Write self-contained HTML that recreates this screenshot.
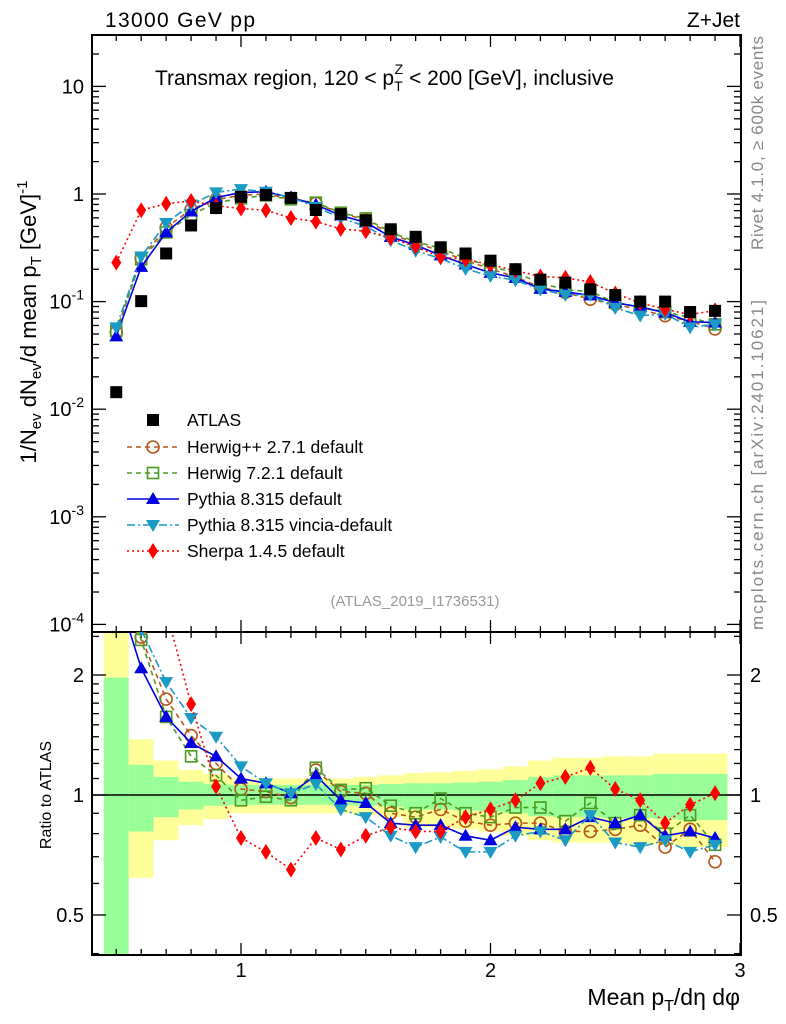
<!DOCTYPE html>
<html><head><meta charset="utf-8"><style>
body{margin:0;background:#fff;}
svg{display:block;font-family:"Liberation Sans",sans-serif;}
</style></head><body>
<svg id="c" width="786" height="1024" viewBox="0 0 786 1024" xmlns="http://www.w3.org/2000/svg">
<defs>
<clipPath id="cpMain"><rect x="92" y="35" width="649" height="597"/></clipPath>
<clipPath id="cpRat"><rect x="92" y="632" width="649" height="323"/></clipPath>
</defs>
<g id="bands" clip-path="url(#cpRat)"></g>
<g id="frame"></g>
<g id="series"></g>
<text x="105" y="27" font-size="21" textLength="150">13000 GeV pp</text>
<text x="740" y="27" font-size="21" text-anchor="end">Z+Jet</text>
<text x="155" y="85" font-size="21">Transmax region, 120 &lt; p<tspan font-size="14" dy="6">T</tspan><tspan font-size="14" dx="-8" dy="-17">Z</tspan><tspan dy="11"> &lt; 200 [GeV], inclusive</tspan></text>
<text transform="translate(36,322) rotate(-90)" font-size="22" text-anchor="middle">1/N<tspan font-size="15" dy="5">ev</tspan><tspan dy="-5"> dN</tspan><tspan font-size="15" dy="5">ev</tspan><tspan dy="-5">/d mean p</tspan><tspan font-size="15" dy="5">T</tspan><tspan dy="-5"> [GeV]</tspan><tspan font-size="15" dy="-9">-1</tspan></text>
<text transform="translate(51,795) rotate(-90)" font-size="16" text-anchor="middle">Ratio to ATLAS</text>
<text transform="translate(763,250) rotate(-90)" font-size="17" fill="#888" textLength="214">Rivet 4.1.0, ≥ 600k events</text>
<text transform="translate(763,630) rotate(-90)" font-size="17" fill="#888" textLength="330">mcplots.cern.ch [arXiv:2401.10621]</text>
<text x="415" y="606" font-size="15" fill="#999" text-anchor="middle">(ATLAS_2019_I1736531)</text>
<text x="740" y="1005" font-size="23" text-anchor="end">Mean p<tspan font-size="16" dy="6">T</tspan><tspan dy="-6">/dη dφ</tspan></text>
<g id="legend"></g>
</svg>
<script>
const xs=[0.5,0.6,0.7,0.8,0.9,1.0,1.1,1.2,1.3,1.4,1.5,1.6,1.7,1.8,1.9,2.0,2.1,2.2,2.3,2.4,2.5,2.6,2.7,2.8,2.9];
const atlas=[0.0144,0.101,0.28,0.51,0.74,0.94,0.98,0.92,0.71,0.65,0.57,0.47,0.40,0.32,0.28,0.24,0.20,0.16,0.15,0.13,0.115,0.10,0.10,0.08,0.082];
const herwigpp=[3.6,2.49,1.74,1.41,1.20,1.035,1.02,0.985,1.155,1.02,1.01,0.90,0.88,0.92,0.86,0.84,0.85,0.85,0.81,0.81,0.82,0.84,0.74,0.82,0.68];
const herwig7=[3.7,2.45,1.57,1.25,1.12,0.97,0.99,0.97,1.17,1.03,1.04,0.94,0.90,0.98,0.90,0.88,0.93,0.93,0.86,0.955,0.85,0.89,0.80,0.89,0.75];
const pythia=[3.3,2.08,1.57,1.35,1.25,1.10,1.07,1.01,1.12,0.97,0.955,0.85,0.84,0.84,0.79,0.77,0.83,0.82,0.82,0.88,0.85,0.89,0.79,0.81,0.78];
const vincia=[4.0,2.6,1.92,1.56,1.40,1.18,1.07,1.01,1.065,0.92,0.88,0.79,0.74,0.785,0.72,0.72,0.79,0.81,0.77,0.89,0.76,0.74,0.77,0.72,0.75];
const sherpa=[16,7.0,2.9,1.69,1.05,0.78,0.72,0.65,0.78,0.73,0.79,0.83,0.81,0.81,0.88,0.92,0.97,1.07,1.11,1.17,1.035,0.97,0.85,0.945,1.01];
const statHi=[1.97,1.19,1.11,1.08,1.065,1.06,1.06,1.06,1.06,1.06,1.06,1.065,1.07,1.07,1.075,1.08,1.09,1.11,1.12,1.12,1.12,1.12,1.13,1.13,1.13];
const statLo=[0.3,0.81,0.88,0.92,0.94,0.945,0.945,0.945,0.945,0.945,0.94,0.935,0.92,0.92,0.915,0.91,0.9,0.885,0.88,0.88,0.875,0.875,0.87,0.865,0.865];
const totHi=[3,1.38,1.22,1.155,1.13,1.1,1.1,1.1,1.1,1.1,1.11,1.12,1.135,1.14,1.15,1.16,1.18,1.22,1.24,1.24,1.25,1.25,1.27,1.27,1.27];
const totLo=[0.66,0.62,0.77,0.84,0.87,0.9,0.9,0.9,0.9,0.9,0.89,0.88,0.83,0.83,0.82,0.81,0.79,0.77,0.76,0.76,0.76,0.75,0.75,0.74,0.74];
const yTicks=["10","1","10^-1","10^-2","10^-3","10^-4"];
const NS='http://www.w3.org/2000/svg';
const X=v=>241+249.5*(v-1);
const Y=v=>194-107.6*Math.log10(v);
const R=v=>795-398.6*Math.log10(v);
function mk(tag,attrs,parent){const e=document.createElementNS(NS,tag);for(const k in attrs)e.setAttribute(k,attrs[k]);parent.appendChild(e);return e;}
const frame=document.getElementById('frame'),bands=document.getElementById('bands'),series=document.getElementById('series'),legend=document.getElementById('legend');
xs.forEach((x,i)=>{
 let r=mk('rect',{x:X(x-0.05),y:R(totHi[i]),width:X(x+0.05)-X(x-0.05),height:R(totLo[i])-R(totHi[i]),fill:'#ffff99'},bands);
 
 
 let g=mk('rect',{x:X(x-0.05),y:R(statHi[i]),width:X(x+0.05)-X(x-0.05),height:R(statLo[i])-R(statHi[i]),fill:'#99ff99'},bands);
 
 
});
mk('rect',{x:92,y:35,width:649,height:597,fill:'none',stroke:'#000','stroke-width':2},frame);
mk('rect',{x:92,y:632,width:649,height:323,fill:'none',stroke:'#000','stroke-width':2},frame);
mk('line',{x1:92,x2:741,y1:R(1),y2:R(1),stroke:'#000','stroke-width':1.5},frame);
for(let k=4;k<=30;k++){const v=k/10,px=X(v);if(px<92||px>741)continue;const maj=(k%10==0);const L=maj?12:6;
 [[35,1],[632,-1],[632,1],[955,-1]].forEach(([y0,d])=>mk('line',{x1:px,x2:px,y1:y0,y2:y0+d*L,stroke:'#000','stroke-width':1.3},frame));
 if(maj){const t=mk('text',{x:px,y:977,'font-size':20,'text-anchor':'middle'},frame);t.textContent=String(v);
 
 }
}
for(let e=-4;e<=1;e++){for(let m=1;m<=9;m++){const v=m*Math.pow(10,e),py=Y(v);if(py<35||py>632)continue;const L=m==1?14:7;
 mk('line',{x1:92,x2:92+L,y1:py,y2:py,stroke:'#000','stroke-width':1.3},frame);mk('line',{x1:741,x2:741-L,y1:py,y2:py,stroke:'#000','stroke-width':1.3},frame);}}
yTicks.forEach((s,i)=>{const e=1-i,py=Y(Math.pow(10,e));const t=mk('text',{x:84,y:py+7,'font-size':20,'text-anchor':'end'},frame);
 const p=s.split('^');t.textContent=p[0];if(p[1]){const ts=mk('tspan',{'font-size':14,dy:-9},t);ts.textContent=p[1];}
 
 });
[0.4,0.5,0.6,0.7,0.8,0.9,1,1.1,1.2,1.3,1.4,1.5,1.6,1.7,1.8,1.9,2,2.5].forEach(v=>{const py=R(v);if(py<632||py>955)return;const L=(v==0.5||v==1||v==2)?14:7;
 mk('line',{x1:92,x2:92+L,y1:py,y2:py,stroke:'#000','stroke-width':1.3},frame);mk('line',{x1:741,x2:741-L,y1:py,y2:py,stroke:'#000','stroke-width':1.3},frame);});
["2","1","0.5"].forEach(s=>{const py=R(parseFloat(s));
 const a=mk('text',{x:84,y:py+7,'font-size':20,'text-anchor':'end'},frame);a.textContent=s;
 
 
 const b=mk('text',{x:750,y:py+7,'font-size':20},frame);b.textContent=s;
 
 });
function marker(type,cx,cy,color,parent){
 if(type=='sq') return mk('rect',{x:cx-6,y:cy-6,width:12,height:12,fill:'#000'},parent);
 if(type=='osq') return mk('rect',{x:cx-5.5,y:cy-5.5,width:11,height:11,fill:'none',stroke:color,'stroke-width':1.6},parent);
 if(type=='oc') return mk('circle',{cx:cx,cy:cy,r:6,fill:'none',stroke:color,'stroke-width':1.6},parent);
 if(type=='tu') return mk('polygon',{points:`${cx},${cy-7} ${cx-7},${cy+5} ${cx+7},${cy+5}`,fill:color},parent);
 if(type=='td') return mk('polygon',{points:`${cx},${cy+7} ${cx-7},${cy-5} ${cx+7},${cy-5}`,fill:color},parent);
 if(type=='dm') return mk('polygon',{points:`${cx},${cy-8} ${cx-5},${cy} ${cx},${cy+8} ${cx+5},${cy}`,fill:color},parent);
}
const defs=[
 {name:'herwigpp',data:herwigpp,color:'#b5561a',dash:'5,4',m:'oc',label:'Herwig++ 2.7.1 default'},
 {name:'herwig7',data:herwig7,color:'#4a9a20',dash:'5,4',m:'osq',label:'Herwig 7.2.1 default'},
 {name:'pythia',data:pythia,color:'#0000e0',dash:'',m:'tu',label:'Pythia 8.315 default'},
 {name:'vincia',data:vincia,color:'#1a9ac4',dash:'8,3,2,3',m:'td',label:'Pythia 8.315 vincia-default'},
 {name:'sherpa',data:sherpa,color:'#ff0000',dash:'2,3',m:'dm',label:'Sherpa 1.4.5 default'}];
const gm=mk('g',{'clip-path':'url(#cpMain)'},series);
const gr=mk('g',{'clip-path':'url(#cpRat)'},series);
defs.forEach(d=>{
 const ptsM=xs.map((x,i)=>X(x)+','+Y(atlas[i]*d.data[i])).join(' ');
 const ptsR=xs.map((x,i)=>X(x)+','+R(d.data[i])).join(' ');
 const a=mk('polyline',{points:ptsM,fill:'none',stroke:d.color,'stroke-width':1.6,'stroke-dasharray':d.dash},gm);
 
 
 const b=mk('polyline',{points:ptsR,fill:'none',stroke:d.color,'stroke-width':1.6,'stroke-dasharray':d.dash},gr);
 
 
 xs.forEach((x,i)=>{
  const m1=marker(d.m,X(x),Y(atlas[i]*d.data[i]),d.color,gm);
  
  
  const m2=marker(d.m,X(x),R(d.data[i]),d.color,gr);
  
  
 });
});
xs.forEach((x,i)=>{const m=marker('sq',X(x),Y(atlas[i]),'#000',gm);
 
 });
const ly=[420,447,473,499,525,551];
const e0=marker('sq',153,ly[0],'#000',legend);


const t0=mk('text',{x:187,y:ly[0]+6,'font-size':17.5},legend);t0.textContent='ATLAS';


defs.forEach((d,i)=>{const y=ly[i+1];
 const l=mk('line',{x1:127,x2:179,y1:y,y2:y,stroke:d.color,'stroke-width':1.6,'stroke-dasharray':d.dash},legend);
 
 
 const m=marker(d.m,153,y,d.color,legend);
 
 
 const t=mk('text',{x:187,y:y+6,'font-size':17.5},legend);t.textContent=d.label;
 
 
});
</script>
</body></html>
